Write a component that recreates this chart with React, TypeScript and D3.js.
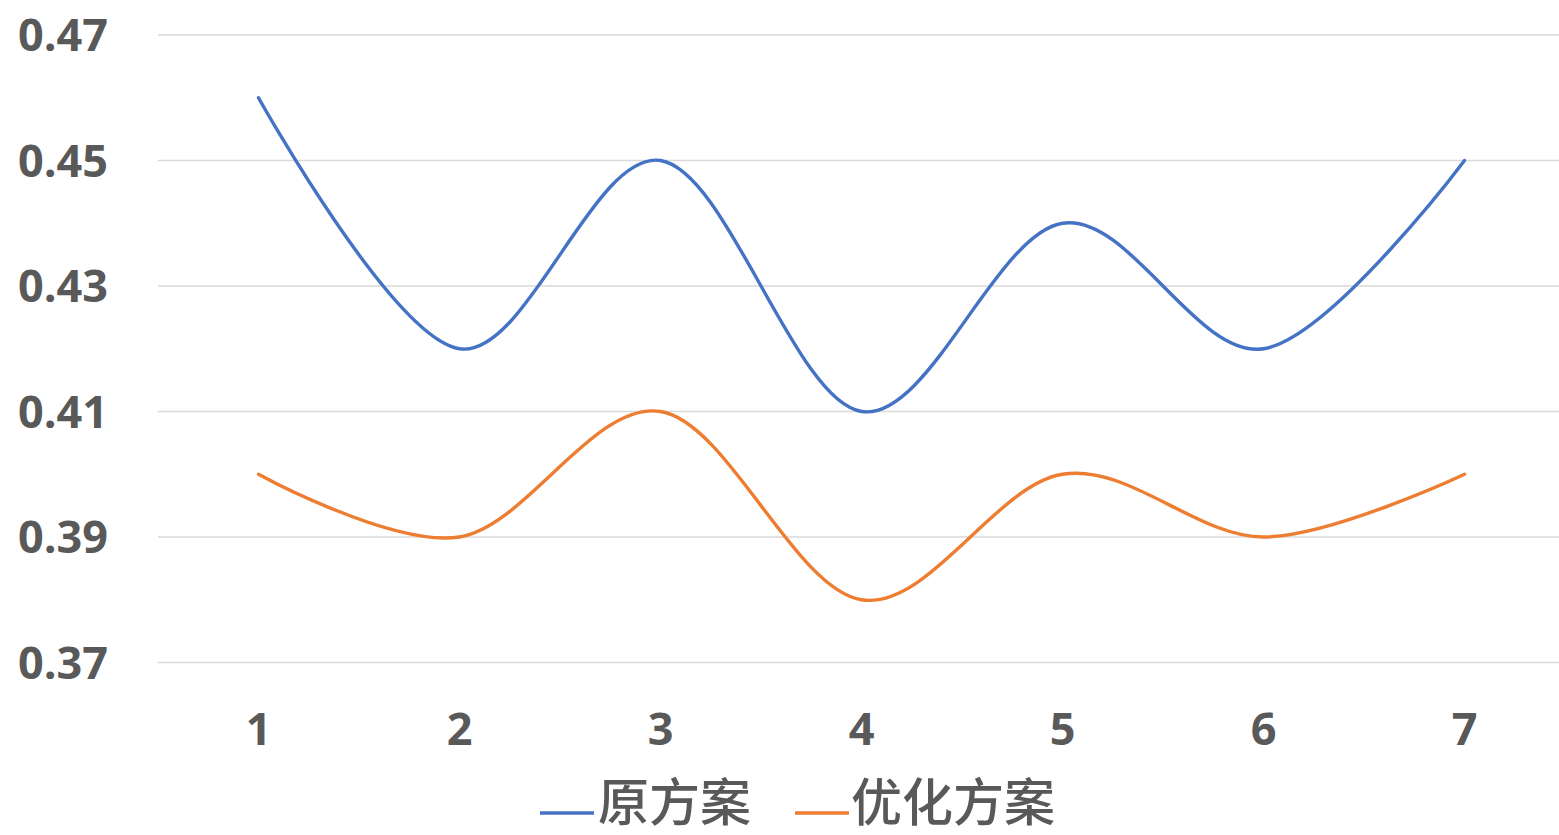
import React from "react";
import * as d3 from "d3";

// Category positions and tick values
const categories = [1, 2, 3, 4, 5, 6, 7];
const yTicks = [0.37, 0.39, 0.41, 0.43, 0.45, 0.47];

// Series values
const originalPlan = [0.46, 0.42, 0.45, 0.41, 0.44, 0.42, 0.45];
const optimizedPlan = [0.40, 0.39, 0.41, 0.38, 0.40, 0.39, 0.40];

const seriesNames = ["原方案", "优化方案"];
const seriesColors = ["#4472C4", "#ED7D31"];

const W = 1559;
const H = 835;

export default function App() {
  const x = d3
    .scalePoint<number>()
    .domain(categories)
    .range([158, 1565])
    .padding(0.5);
  const y = d3.scaleLinear().domain([0.37, 0.47]).range([662.5, 35]);

  const line = d3
    .line<number>()
    .x((_, i) => x(categories[i]) as number)
    .y((d) => y(d))
    .curve(d3.curveCatmullRom.alpha(0));

  const series = [originalPlan, optimizedPlan];
  const font = "'Open Sans', 'Noto Sans', sans-serif";
  const cjkFont = "'Noto Sans CJK SC', 'Noto Sans', sans-serif";

  const legendItems = [
    { x0: 540, textX: 598 },
    { x0: 795, textX: 851 },
  ];

  return (
    <svg
      width={W}
      height={H}
      style={{ position: "absolute", left: 0, top: 0, background: "#fff" }}
    >
      {/* horizontal gridlines */}
      {yTicks.map((t) => (
        <line
          key={`g${t}`}
          x1={158}
          x2={W}
          y1={y(t)}
          y2={y(t)}
          stroke="#d9d9d9"
          strokeWidth={1.6}
        />
      ))}
      {/* y tick labels */}
      {yTicks.map((t) => (
        <text
          key={`y${t}`}
          x={108}
          y={y(t) + 16}
          textAnchor="end"
          fontFamily={font}
          fontWeight={700}
          fontSize={45}
          fill="#595959"
        >
          {t.toFixed(2)}
        </text>
      ))}
      {/* x tick labels */}
      {categories.map((c) => (
        <text
          key={`x${c}`}
          x={x(c) as number}
          y={745}
          textAnchor="middle"
          fontFamily={font}
          fontWeight={700}
          fontSize={45}
          fill="#595959"
        >
          {c}
        </text>
      ))}
      {/* series lines */}
      {series.map((s, i) => (
        <path
          key={`s${i}`}
          d={line(s) ?? ""}
          fill="none"
          stroke={seriesColors[i]}
          strokeWidth={3.4}
          strokeLinecap="round"
        />
      ))}
      {/* legend */}
      {legendItems.map((it, i) => (
        <g key={`l${i}`}>
          <line
            x1={it.x0}
            x2={it.x0 + 54}
            y1={813}
            y2={813}
            stroke={seriesColors[i]}
            strokeWidth={3.4}
          />
          <text
            x={it.textX}
            y={821}
            fontFamily={cjkFont}
            fontWeight={500}
            fontSize={51}
            fill="#595959"
          >
            {seriesNames[i]}
          </text>
        </g>
      ))}
    </svg>
  );
}
